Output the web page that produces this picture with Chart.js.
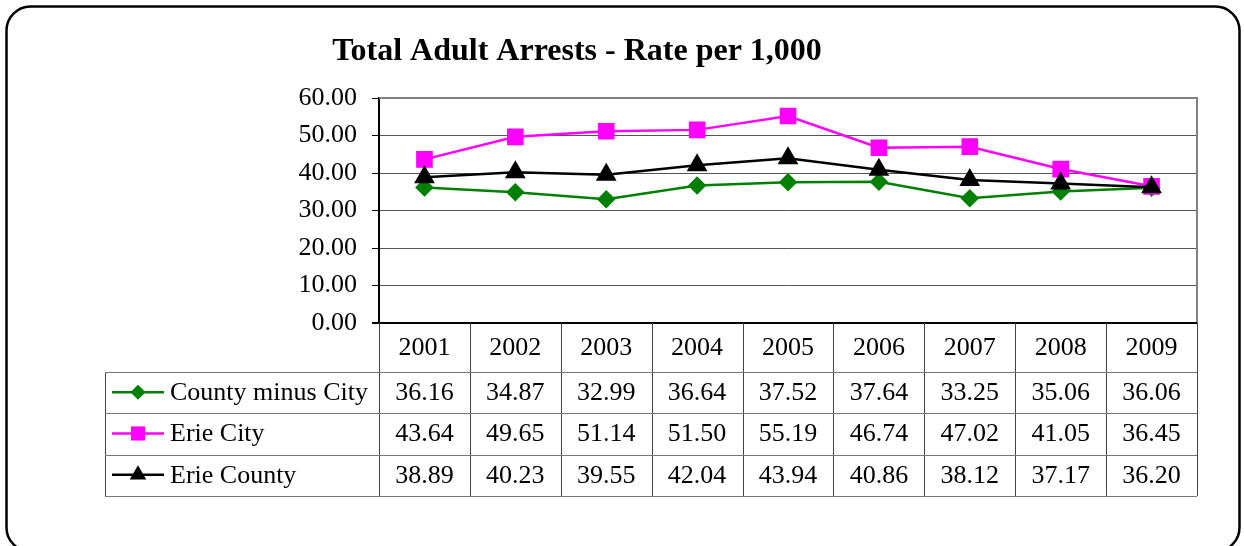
<!DOCTYPE html>
<html>
<head>
<meta charset="utf-8">
<script src="https://cdn.jsdelivr.net/npm/chart.js@4.4.1/dist/chart.umd.min.js"></script>
<style>
  html, body { margin: 0; padding: 0; background: #fff; }
  #wrap { width: 1244px; height: 546px; }
</style>
</head>
<body>
<div id="wrap"><canvas id="myChart" width="1244" height="546"></canvas></div>
<script>
// data
const years = ['2001', '2002', '2003', '2004', '2005', '2006', '2007', '2008', '2009'];
const countyMinusCity = [36.16, 34.87, 32.99, 36.64, 37.52, 37.64, 33.25, 35.06, 36.06];
const erieCity = [43.64, 49.65, 51.14, 51.50, 55.19, 46.74, 47.02, 41.05, 36.45];
const erieCounty = [38.89, 40.23, 39.55, 42.04, 43.94, 40.86, 38.12, 37.17, 36.20];
const yTicks = [0, 10, 20, 30, 40, 50, 60];
const chartTitle = 'Total Adult Arrests - Rate per 1,000';

const serif = "'Liberation Serif', 'Times New Roman', serif";

const tablePlugin = {
    id: 'dataTable',
    beforeDraw(chart) {
        const ctx = chart.ctx;
        ctx.save();
        ctx.fillStyle = '#fff';
        ctx.fillRect(0, 0, chart.width, chart.height);
        // rounded frame
        ctx.strokeStyle = '#000';
        ctx.lineWidth = 2.5;
        ctx.beginPath();
        ctx.roundRect(6.5, 6.5, 1233, 545, 24);
        ctx.stroke();
        ctx.restore();
    },
    afterDraw(chart) {
        const ctx = chart.ctx;
        const area = chart.chartArea;
        const x = chart.scales.x;
        const ds = chart.data.datasets;
        ctx.save();

        // title
        ctx.fillStyle = '#000';
        ctx.font = 'bold 32px ' + serif;
        ctx.textAlign = 'center';
        ctx.textBaseline = 'middle';
        ctx.fillText(chartTitle, 577, 52);

        // top / right border of plot
        ctx.strokeStyle = '#808080';
        ctx.lineWidth = 2;
        ctx.beginPath();
        ctx.moveTo(area.left, area.top);
        ctx.lineTo(area.right, area.top);
        ctx.lineTo(area.right, area.bottom);
        ctx.stroke();
        // bottom axis line
        ctx.strokeStyle = '#000';
        ctx.beginPath();
        ctx.moveTo(area.left - 7, area.bottom);
        ctx.lineTo(area.right, area.bottom);
        ctx.stroke();

        // data table
        const colW = (area.right - area.left) / years.length;
        const headBottom = 372;
        const rowH = 41.3;
        const tableLeft = 105;
        const tableBottom = headBottom + rowH * ds.length;

        ctx.lineWidth = 1;
        ctx.strokeStyle = '#444';
        for (let i = 0; i <= years.length; i++) {
            const xx = Math.round(area.left + i * colW) + 0.5;
            ctx.beginPath();
            ctx.moveTo(xx, area.bottom);
            ctx.lineTo(xx, tableBottom);
            ctx.stroke();
        }
        ctx.beginPath();
        ctx.moveTo(tableLeft + 0.5, headBottom);
        ctx.lineTo(tableLeft + 0.5, tableBottom);
        ctx.stroke();
        ctx.strokeStyle = '#777';
        for (let r = 0; r <= ds.length; r++) {
            const yy = Math.round(headBottom + r * rowH) + 0.5;
            ctx.beginPath();
            ctx.moveTo(tableLeft, yy);
            ctx.lineTo(area.right, yy);
            ctx.stroke();
        }

        ctx.fillStyle = '#000';
        ctx.font = '26px ' + serif;
        ctx.textAlign = 'center';
        years.forEach((yr, i) => {
            ctx.fillText(yr, x.getPixelForValue(i), (area.bottom + headBottom) / 2 + 1);
        });

        ds.forEach((d, r) => {
            const cy = headBottom + rowH * (r + 0.5) + 0.5;
            ctx.fillStyle = '#000';
            ctx.textAlign = 'center';
            d.data.forEach((v, i) => {
                ctx.fillText(v.toFixed(2), x.getPixelForValue(i), cy);
            });
            // legend key
            ctx.strokeStyle = d.borderColor;
            ctx.lineWidth = 2.5;
            ctx.beginPath();
            ctx.moveTo(112, cy - 1);
            ctx.lineTo(164, cy - 1);
            ctx.stroke();
            ctx.fillStyle = d.pointBackgroundColor;
            Chart.helpers.drawPoint(ctx, {pointStyle: d.pointStyle, radius: d.pointRadius, rotation: 0, borderWidth: 0}, 138, cy - 1);
            ctx.fillStyle = '#000';
            ctx.textAlign = 'left';
            ctx.fillText(d.label, 170, cy);
        });

        ctx.restore();
    }
};

const ctx = document.getElementById('myChart').getContext('2d');
const myChart = new Chart(ctx, {
    type: 'line',
    data: {
        labels: years,
        datasets: [{
            label: 'County minus City',
            data: countyMinusCity,
            borderColor: '#008000',
            backgroundColor: '#008000',
            pointBackgroundColor: '#008000',
            pointBorderColor: '#008000',
            pointStyle: 'rectRot',
            pointRadius: 7.5,
            borderWidth: 2.5,
            order: 2,
        }, {
            label: 'Erie City',
            data: erieCity,
            borderColor: '#FF00FF',
            backgroundColor: '#FF00FF',
            pointBackgroundColor: '#FF00FF',
            pointBorderColor: '#FF00FF',
            pointStyle: 'rect',
            pointRadius: 10,
            borderWidth: 2.5,
            order: 1,
        }, {
            label: 'Erie County',
            data: erieCounty,
            borderColor: '#000000',
            backgroundColor: '#000000',
            pointBackgroundColor: '#000000',
            pointBorderColor: '#000000',
            pointStyle: 'triangle',
            pointRadius: 9.5,
            borderWidth: 2.5,
            order: 0,
        }]
    },
    options: {
        responsive: false,
        animation: false,
        layout: {
            padding: { left: 275, right: 47, top: 98, bottom: 223 }
        },
        scales: {
            x: {
                display: false,
                offset: true,
            },
            y: {
                min: 0,
                max: 60,
                afterFit: (scale) => { scale.width = 104; },
                afterBuildTicks: (scale) => { scale.ticks = yTicks.map(v => ({ value: v })); },
                ticks: {
                    color: '#000',
                    padding: 15,
                    font: { family: serif, size: 26 },
                    callback: (v) => v.toFixed(2),
                },
                grid: {
                    color: '#555',
                    lineWidth: 1,
                    tickLength: 7,
                    tickColor: '#000',
                },
                border: { color: '#000', width: 2 },
            },
        },
        plugins: {
            legend: { display: false },
            title: { display: false },
            tooltip: { enabled: false },
        }
    },
    plugins: [tablePlugin]
});
</script>
</body>
</html>
